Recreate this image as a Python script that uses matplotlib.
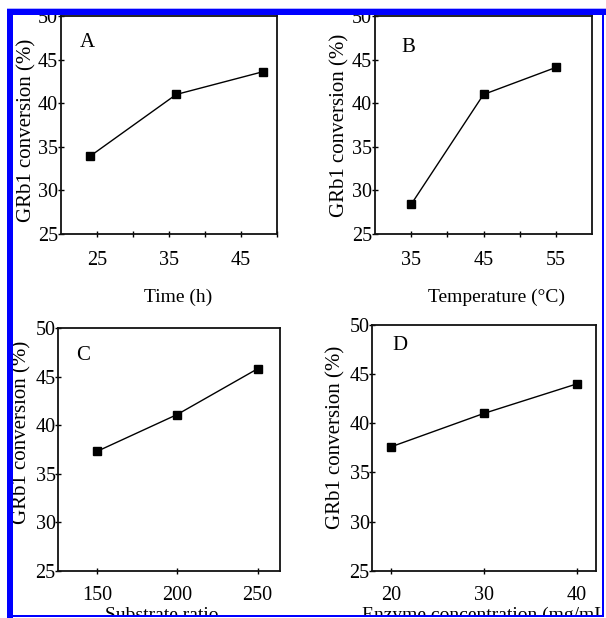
import matplotlib
matplotlib.use("Agg")
import matplotlib.pyplot as plt
from matplotlib.patches import Rectangle

# ---- data ----
time_h = [24, 36, 48]
conv_time = [33.9, 41.0, 43.6]

temp_c = [35, 45, 55]
conv_temp = [28.4, 41.0, 44.1]

substrate = [150, 200, 250]
conv_sub = [37.3, 41.1, 45.8]

enzyme = [20, 30, 40]
conv_enz = [37.6, 41.0, 44.0]

ylabel = "GRb1 conversion (%)"
xlabels = ["Time (h)", "Temperature (\u00b0C)", "Substrate ratio", "Enzyme concentration (mg/mL)"]
letters = ["A", "B", "C", "D"]

W, H = 606, 618
plt.rcParams['font.family'] = ['Liberation Serif', 'DejaVu Serif']
fig = plt.figure(figsize=(W / 100, H / 100), dpi=100)
fig.patch.set_facecolor('white')


def px_axes(l, t, r, b):
    return [l / W, 1 - b / H, (r - l) / W, (b - t) / H]


panels = [
    dict(rect=px_axes(61, 16, 277, 234), x=time_h, y=conv_time, xlim=(20, 50),
         xticks=[25, 30, 35, 40, 45, 50], xlabs=[25, 35, 45],
         xl=(0.542, -0.29), xha='center', yl=(-0.157, 0.475), let=(0.12, 0.88), xpad=10),
    dict(rect=px_axes(375, 16, 592, 234), x=temp_c, y=conv_temp, xlim=(30, 60),
         xticks=[35, 40, 45, 50, 55], xlabs=[35, 45, 55],
         xl=(0.56, -0.29), xha='center', yl=(-0.16, 0.498), let=(0.153, 0.857), xpad=10),
    dict(rect=px_axes(58.3, 328, 280, 571), x=substrate, y=conv_sub, xlim=(126, 264),
         xticks=[150, 200, 250], xlabs=[150, 200, 250],
         xl=(0.465, -0.182), xha='center', yl=(-0.163, 0.572), let=(0.113, 0.886), xpad=9),
    dict(rect=px_axes(372.3, 324.7, 595.7, 571), x=enzyme, y=conv_enz, xlim=(18, 42),
         xticks=[20, 30, 40], xlabs=[20, 30, 40],
         xl=(-0.046, -0.180), xha='left', yl=(-0.162, 0.543), let=(0.123, 0.915), xpad=9),
]

for i, p in enumerate(panels):
    ax = fig.add_axes(p['rect'])
    ax.plot(p['x'], p['y'], color='black', lw=1.0, marker='s', ms=6,
            markerfacecolor='black', markeredgecolor='black', clip_on=False)
    ax.set_xlim(*p['xlim'])
    ax.set_ylim(25, 50)
    ax.set_yticks([25, 30, 35, 40, 45, 50])
    ax.set_xticks(p['xticks'])
    ax.set_xticklabels([str(v) if v in p['xlabs'] else '' for v in p['xticks']])
    ax.tick_params(direction='inout', length=4, width=1.0, labelsize=14.5, colors='black')
    ax.tick_params(axis='y', pad=0)
    ax.tick_params(axis='x', pad=p['xpad'])
    for s in ax.spines.values():
        s.set_linewidth(1.3)
        s.set_color('#111111')
    ax.set_xlabel(xlabels[i], fontsize=14)
    ax.xaxis.set_label_coords(*p['xl'])
    ax.xaxis.label.set_va('center')
    ax.xaxis.label.set_ha(p['xha'])
    ax.set_ylabel(ylabel, fontsize=15)
    ax.yaxis.set_label_coords(*p['yl'])
    ax.yaxis.label.set_va('center')
    ax.text(p['let'][0], p['let'][1], letters[i], transform=ax.transAxes,
            fontsize=15, ha='center', va='center')


def fig_rect(l, t, r, b, color, z):
    fig.patches.append(Rectangle((l / W, 1 - b / H), (r - l) / W, (b - t) / H,
                                 transform=fig.transFigure, facecolor=color,
                                 edgecolor='none', zorder=z))


# white masks (cropping of the original)
fig_rect(0, 614.5, W, H, 'white', 20)
fig_rect(601, 0, W, H, 'white', 20)
fig_rect(0, 0, W, 8.5, 'white', 20)
# blue border
fig_rect(7, 9, W, 15, '#0000ff', 21)
fig_rect(7, 9, 13, H, '#0000ff', 21)
fig_rect(602, 9, 603.8, 616.5, '#0000ff', 21)
fig_rect(7, 615.3, 603.8, 617, '#0000ff', 21)
fig_rect(7, 8, W, 9, '#b0b0ff', 21)

fig.savefig('out.png', dpi=100)
